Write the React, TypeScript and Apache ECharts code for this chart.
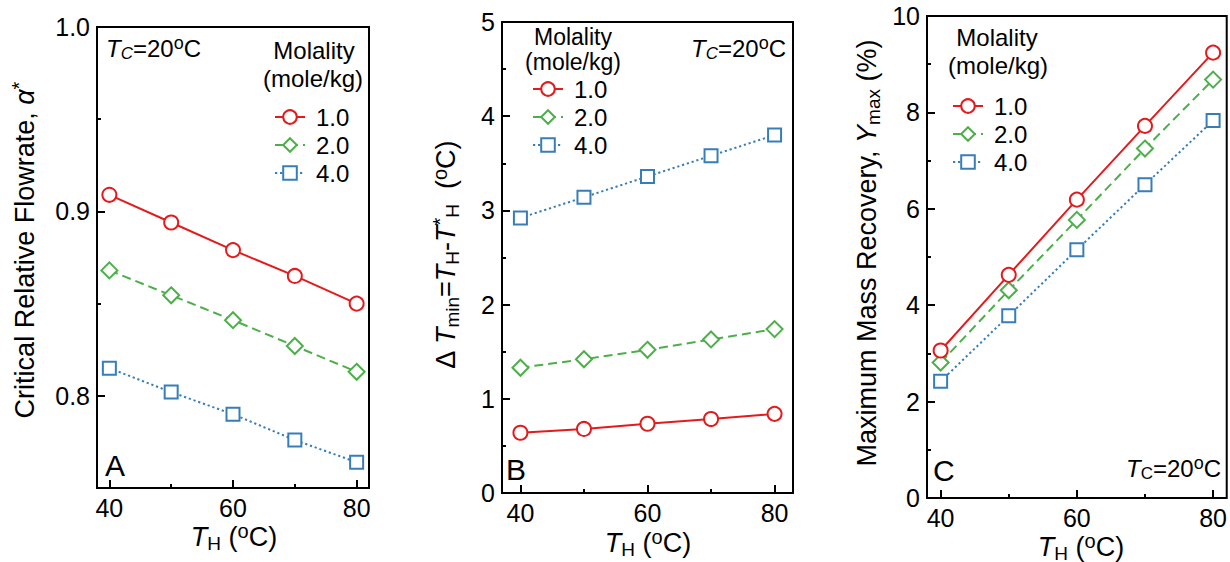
import React, { useEffect, useRef } from "react";
import * as echarts from "echarts";

const FONT = "Liberation Sans, Arial, Helvetica, sans-serif";

// ---- data ----
const temps = [40, 50, 60, 70, 80];
const molalityNames = ["1.0", "2.0", "4.0"];

// Panel A: critical relative flowrate alpha*
const alphaM1 = [0.909, 0.894, 0.879, 0.865, 0.85];
const alphaM2 = [0.868, 0.8545, 0.841, 0.827, 0.813];
const alphaM4 = [0.815, 0.802, 0.79, 0.776, 0.764];

// Panel B: delta T min (°C)
const dTminM1 = [0.64, 0.68, 0.735, 0.785, 0.84];
const dTminM2 = [1.33, 1.42, 1.52, 1.63, 1.74];
const dTminM4 = [2.92, 3.14, 3.36, 3.58, 3.8];

// Panel C: maximum mass recovery (%)
const recoveryM1 = [3.06, 4.63, 6.19, 7.72, 9.24];
const recoveryM2 = [2.81, 4.31, 5.77, 7.25, 8.68];
const recoveryM4 = [2.42, 3.78, 5.15, 6.5, 7.83];

// ---- ticks ----
const xMajorTicks = [40, 60, 80];
const xMinorTicks = [50, 70];
const aMajorTicks = [0.8, 0.9, 1.0];
const aMinorTicks = [0.85, 0.95];
const bMajorTicks = [0, 1, 2, 3, 4, 5];
const bMinorTicks = [0.5, 1.5, 2.5, 3.5, 4.5];
const cMajorTicks = [0, 2, 4, 6, 8, 10];
const cMinorTicks = [1, 3, 5, 7, 9];

const COLORS = ["#e41a1c", "#4daf4a", "#377eb8"];
const SYMBOLS = ["circle", "diamond", "rect"];
const SYMBOL_SIZES = [14, 16, 13];
const DASHES: any[] = ["solid", [9, 5], [2.2, 2.8]];

const TICK_FS = 25;
const LEG_FS = 24;
const NAME_FS = 27;
const LETTER_FS = 30;

const richBase = (fs: number) => ({
  i: { fontStyle: "italic", fontSize: fs, fontFamily: FONT, fill: "#000" },
  sub: { fontSize: Math.round(fs * 0.72), fontFamily: FONT, fill: "#000", padding: [Math.round(fs * 0.45), 0, 0, 0] },
  isub: { fontSize: Math.round(fs * 0.72), fontStyle: "italic", fontFamily: FONT, fill: "#000", padding: [Math.round(fs * 0.45), 0, 0, 0] },
  sup: { fontSize: Math.round(fs * 0.75), fontFamily: FONT, fill: "#000", padding: [0, 0, Math.round(fs * 0.45), 0] },
});

function txt(x: number, y: number, text: string, fs: number, align = "left", rotation = 0) {
  return {
    type: "text",
    x,
    y,
    rotation,
    silent: true,
    style: {
      text,
      rich: richBase(fs),
      fontSize: fs,
      fontFamily: FONT,
      fill: "#000",
      align,
      verticalAlign: "middle",
    },
  };
}

function majorAxis(gridIndex: number, min: number, max: number, ticks: number[], fmt?: (v: number) => string) {
  return {
    type: "value",
    gridIndex,
    min,
    max,
    axisLine: { show: false },
    splitLine: { show: false },
    axisTick: { show: true, inside: true, length: 8, customValues: ticks, lineStyle: { color: "#000", width: 2 } },
    axisLabel: {
      show: true,
      customValues: ticks,
      fontSize: TICK_FS,
      fontFamily: FONT,
      color: "#000",
      margin: 7,
      formatter: fmt,
    },
  };
}

function minorAxis(gridIndex: number, min: number, max: number, ticks: number[], position: string) {
  return {
    type: "value",
    gridIndex,
    min,
    max,
    position,
    axisLine: { show: false },
    splitLine: { show: false },
    axisLabel: { show: false },
    axisTick: { show: true, inside: true, length: 4, customValues: ticks, lineStyle: { color: "#000", width: 2 } },
  };
}

function makeSeries(panel: number, values: number[][]) {
  return values.map((vals, k) => ({
    type: "line",
    name: molalityNames[k],
    xAxisIndex: panel * 2,
    yAxisIndex: panel * 2,
    data: temps.map((t, i) => [t, vals[i]]),
    symbol: SYMBOLS[k],
    symbolSize: SYMBOL_SIZES[k],
    showAllSymbol: true,
    itemStyle: { color: "#fff", borderColor: COLORS[k], borderWidth: 2 },
    lineStyle: { color: COLORS[k], width: 2, type: DASHES[k] },
    emphasis: { disabled: true },
    z: 3 - k,
  }));
}

function legendAt(left: number, top: number) {
  return {
    data: molalityNames,
    orient: "vertical",
    left,
    top,
    padding: 0,
    itemWidth: 30,
    itemHeight: 17,
    itemGap: 4,
    selectedMode: false,
    textStyle: { fontSize: LEG_FS, fontFamily: FONT, fontStyle: "normal", color: "#000", padding: [0, 0, 0, 6] },
  };
}

export default function App() {
  const ref = useRef<HTMLDivElement>(null);
  useEffect(() => {
    if (!ref.current) return;
    const chart = echarts.init(ref.current, undefined, { renderer: "svg" });
    const gridStyle = { show: true, borderColor: "#000", borderWidth: 2, backgroundColor: "transparent" };
    const option: any = {
      animation: false,
      textStyle: { fontFamily: FONT },
      grid: [
        { left: 97, top: 27, width: 272, height: 461, ...gridStyle },
        { left: 502, top: 22, width: 291, height: 471, ...gridStyle },
        { left: 927, top: 16, width: 300, height: 482, ...gridStyle },
      ],
      xAxis: [
        majorAxis(0, 38, 82, xMajorTicks),
        minorAxis(0, 38, 82, xMinorTicks, "bottom"),
        majorAxis(1, 37.1, 82.9, xMajorTicks),
        minorAxis(1, 37.1, 82.9, xMinorTicks, "bottom"),
        majorAxis(2, 38, 82, xMajorTicks),
        minorAxis(2, 38, 82, xMinorTicks, "bottom"),
      ],
      yAxis: [
        majorAxis(0, 0.75, 1.0, aMajorTicks, (v: number) => v.toFixed(1)),
        minorAxis(0, 0.75, 1.0, aMinorTicks, "left"),
        majorAxis(1, 0, 5, bMajorTicks),
        minorAxis(1, 0, 5, bMinorTicks, "left"),
        majorAxis(2, 0, 10, cMajorTicks),
        minorAxis(2, 0, 10, cMinorTicks, "left"),
      ],
      legend: [legendAt(274, 105), legendAt(532, 77), legendAt(952, 94)],
      series: [
        ...makeSeries(0, [alphaM1, alphaM2, alphaM4]),
        ...makeSeries(1, [dTminM1, dTminM2, dTminM4]),
        ...makeSeries(2, [recoveryM1, recoveryM2, recoveryM4]),
      ],
      graphic: [
        // y axis names
        txt(25, 250, "Critical Relative Flowrate, {i|α}{sup|*}", NAME_FS, "center", Math.PI / 2),
        txt(446, 255, "Δ {i|T}{sub|min}={i|T}{sub|H}-{i|T}{sup|*}{sub|H}  ({sup|o}C)", NAME_FS, "center", Math.PI / 2),
        txt(867, 253, "Maximum Mass Recovery, {i|Y}{sub|max} (%)", NAME_FS, "center", Math.PI / 2),
        // x axis names
        txt(234, 537, "{i|T}{sub|H} ({sup|o}C)", NAME_FS, "center"),
        txt(648, 543, "{i|T}{sub|H} ({sup|o}C)", NAME_FS, "center"),
        txt(1081, 547, "{i|T}{sub|H} ({sup|o}C)", NAME_FS, "center"),
        // legend titles
        txt(314, 50, "Molality", LEG_FS, "center"),
        txt(313, 78, "(mole/kg)", LEG_FS, "center"),
        txt(573, 37, "Molality", 23, "center"),
        txt(573, 62, "(mole/kg)", 23, "center"),
        txt(997, 37, "Molality", LEG_FS, "center"),
        txt(998, 65, "(mole/kg)", LEG_FS, "center"),
        // Tc annotations
        txt(106, 48, "{i|T}{isub|C}=20{sup|o}C", LEG_FS, "left"),
        txt(786, 48, "{i|T}{isub|C}=20{sup|o}C", LEG_FS, "right"),
        txt(1221, 468, "{i|T}{sub|C}=20{sup|o}C", LEG_FS, "right"),
        // panel letters
        txt(105, 465, "A", LETTER_FS, "left"),
        txt(506, 469, "B", LETTER_FS, "left"),
        txt(933, 470, "C", LETTER_FS, "left"),
      ],
    };
    chart.setOption(option);
    return () => chart.dispose();
  }, []);
  return <div ref={ref} style={{ position: "absolute", left: 0, top: 0, width: 1230, height: 562 }} />;
}
